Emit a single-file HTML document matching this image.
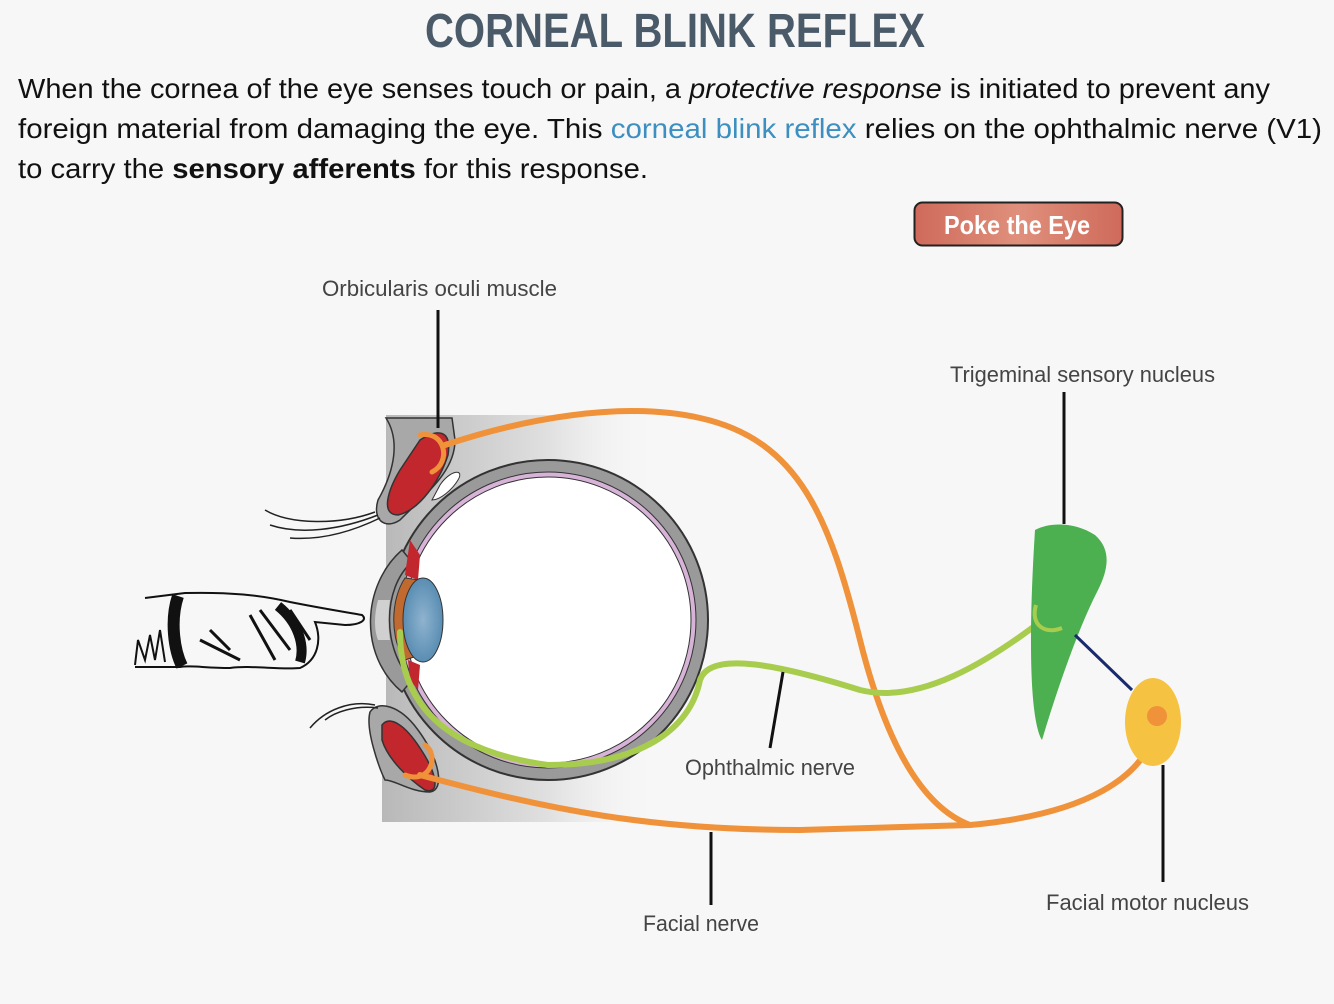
<!DOCTYPE html>
<html><head><meta charset="utf-8"><style>
html,body{margin:0;padding:0;background:#f7f7f7;width:1334px;height:1004px;overflow:hidden}
svg{display:block}
</style></head><body>
<svg width="1334" height="1004" viewBox="0 0 1334 1004" xmlns="http://www.w3.org/2000/svg">
<defs>
<linearGradient id="bg" x1="0" x2="1" y1="0" y2="0">
<stop offset="0" stop-color="#b8b8b8"/><stop offset="0.6" stop-color="#e0e0e0"/><stop offset="1" stop-color="#f7f7f7" stop-opacity="0"/>
</linearGradient>
<linearGradient id="btn" x1="0" x2="1"><stop offset="0" stop-color="#cf6a5b"/><stop offset="0.5" stop-color="#df907c"/><stop offset="1" stop-color="#cf6a5b"/></linearGradient>
<radialGradient id="lens" cx="0.5" cy="0.5" r="0.6"><stop offset="0" stop-color="#8fb3cf"/><stop offset="1" stop-color="#4f86ad"/></radialGradient>
</defs>
<rect width="1334" height="1004" fill="#f7f7f7"/>
<text x="675" y="47" text-anchor="middle" font-family="Liberation Sans, sans-serif" font-weight="bold" font-size="48" fill="#4b5a68" textLength="500" lengthAdjust="spacingAndGlyphs">CORNEAL BLINK REFLEX</text>
<g font-family="Liberation Sans, sans-serif" font-size="28" fill="#111">
<text x="18" y="98" textLength="1252" lengthAdjust="spacingAndGlyphs">When the cornea of the eye senses touch or pain, a <tspan font-style="italic">protective response</tspan> is initiated to prevent any</text>
<text x="18" y="138" textLength="1304" lengthAdjust="spacingAndGlyphs">foreign material from damaging the eye. This <tspan fill="#3c8fc0">corneal blink reflex</tspan> relies on the ophthalmic nerve (V1)</text>
<text x="18" y="178" textLength="630" lengthAdjust="spacingAndGlyphs">to carry the <tspan font-weight="bold">sensory afferents</tspan> for this response.</text>
</g>
<rect x="914.5" y="202.5" width="208" height="43" rx="8" fill="url(#btn)" stroke="#222" stroke-width="2"/>
<text x="1017" y="234" text-anchor="middle" font-family="Liberation Sans, sans-serif" font-weight="bold" font-size="26" fill="#fff" textLength="146" lengthAdjust="spacingAndGlyphs">Poke the Eye</text>

<g font-family="Liberation Sans, sans-serif" font-size="22" fill="#444">
<text x="322" y="296" textLength="235" lengthAdjust="spacingAndGlyphs">Orbicularis oculi muscle</text>
<text x="950" y="382" textLength="265" lengthAdjust="spacingAndGlyphs">Trigeminal sensory nucleus</text>
<text x="685" y="775" textLength="170" lengthAdjust="spacingAndGlyphs">Ophthalmic nerve</text>
<text x="643" y="931" textLength="116" lengthAdjust="spacingAndGlyphs">Facial nerve</text>
<text x="1046" y="910" textLength="203" lengthAdjust="spacingAndGlyphs">Facial motor nucleus</text>
</g>

<path d="M386,415 L660,415 L660,822 L382,822 L382,770 L386,760 Z" fill="url(#bg)"/>
<path d="M386,418 C400,440 395,470 378,500 C372,520 385,530 400,520 C430,490 455,470 455,440 L452,418 Z" fill="#a8a8a8" stroke="#333" stroke-width="1.5"/>
<path d="M420,440 C438,428 452,430 448,455 C440,480 420,510 398,515 C380,515 388,490 400,470 Z" fill="#c1272d" stroke="#333" stroke-width="1.5"/>
<path d="M440,485 C450,470 465,468 458,480 C452,490 440,500 432,500 Z" fill="#fff" stroke="#333"/>
<path d="M370,712 C378,700 400,705 418,730 C440,760 445,790 430,792 C410,792 395,780 385,780 C380,770 365,730 370,712 Z" fill="#a8a8a8" stroke="#333" stroke-width="1.5"/>
<path d="M382,725 C390,715 405,725 420,748 C438,775 440,795 425,790 C410,780 388,760 382,740 Z" fill="#c1272d" stroke="#333" stroke-width="1.5"/>
<g fill="none" stroke="#222" stroke-width="1.5">
<path d="M375,512 C340,525 290,525 265,510"/><path d="M378,515 C340,530 300,535 270,525"/><path d="M380,518 C345,535 315,540 290,538"/>
<path d="M375,705 C350,700 325,710 310,728"/><path d="M378,708 C355,705 335,712 325,720"/>
</g>
<circle cx="548" cy="620" r="160" fill="#9a9a9a" stroke="#333" stroke-width="2"/>
<circle cx="548" cy="620" r="148" fill="#d8b3d8" stroke="#333" stroke-width="1"/>
<circle cx="548" cy="620" r="143" fill="#fff" stroke="#333" stroke-width="1"/>
<path d="M402,550 C362,585 358,655 402,692 L412,680 C382,650 382,588 412,562 Z" fill="#9a9a9a" stroke="#333" stroke-width="1.5"/>
<path d="M378,600 C374,615 374,630 378,640 L390,640 C388,628 388,612 390,600 Z" fill="#d0d0d0"/>
<path d="M405,578 C390,600 390,640 405,660 L420,655 C410,635 410,600 420,580 Z" fill="#c06a30" stroke="#333"/>
<path d="M410,540 L420,555 L418,580 L405,575 Z" fill="#c1272d"/>
<path d="M408,660 L420,665 L418,690 L410,680 Z" fill="#c1272d"/>
<ellipse cx="423" cy="620" rx="20" ry="42" fill="url(#lens)" stroke="#333"/>
<g fill="none" stroke-linecap="round">
<path d="M445,445 C520,420 620,400 700,418 C800,440 830,520 860,640 C890,760 930,810 970,825" stroke="#f0923a" stroke-width="6"/>
<path d="M420,775 C550,810 650,830 800,830 L970,825 C1080,815 1150,780 1158,718" stroke="#f0923a" stroke-width="6"/>
<path d="M420,435 C445,430 452,462 432,472" stroke="#f0923a" stroke-width="5"/>
<path d="M405,775 C430,785 440,755 425,745" stroke="#f0923a" stroke-width="5"/>
<path d="M400,632 C400,700 440,750 548,765 C640,765 690,730 700,680 C710,650 780,665 860,690 C920,705 990,660 1040,622" stroke="#a8cd4e" stroke-width="6"/>
</g>
<path d="M1035,530 C1050,522 1075,522 1095,535 C1112,550 1108,570 1098,590 C1080,625 1060,680 1042,740 C1030,720 1028,640 1035,530 Z" fill="#4caf50"/>
<path d="M1036,605 C1030,625 1045,635 1062,628" fill="none" stroke="#a8cd4e" stroke-width="4"/>
<line x1="1075" y1="635" x2="1132" y2="690" stroke="#1b2a6b" stroke-width="3"/>
<ellipse cx="1153" cy="722" rx="28" ry="44" fill="#f5c242"/>
<circle cx="1157" cy="716" r="10" fill="#f0923a"/>
<g stroke="#111" stroke-width="3">
<line x1="438" y1="310" x2="438" y2="428"/>
<line x1="1064" y1="392" x2="1064" y2="524"/>
<line x1="783" y1="672" x2="770" y2="748"/>
<line x1="711" y1="832" x2="711" y2="905"/>
<line x1="1163" y1="765" x2="1163" y2="882"/>
</g>
<g stroke="#111" fill="none" stroke-width="2">
<path d="M145,598 L185,593 C230,592 260,595 290,602 C320,608 345,612 362,615 C368,620 360,625 345,625 L315,622 C322,640 318,660 300,668 C280,670 250,665 230,668 C205,668 190,665 180,667 L135,667"/>
<path d="M178,596 C170,620 174,650 182,666" stroke-width="12"/>
<path d="M278,606 C298,622 305,645 300,662" stroke-width="10"/>
<path d="M260,610 L290,650 M250,615 L275,660 M290,610 L310,640 M200,640 L240,660 M210,630 L230,650" stroke-width="3"/>
<path d="M135,665 L138,640 L145,660 L150,635 L155,660 L160,630 L165,662"/>
</g>
</svg>
</body></html>
